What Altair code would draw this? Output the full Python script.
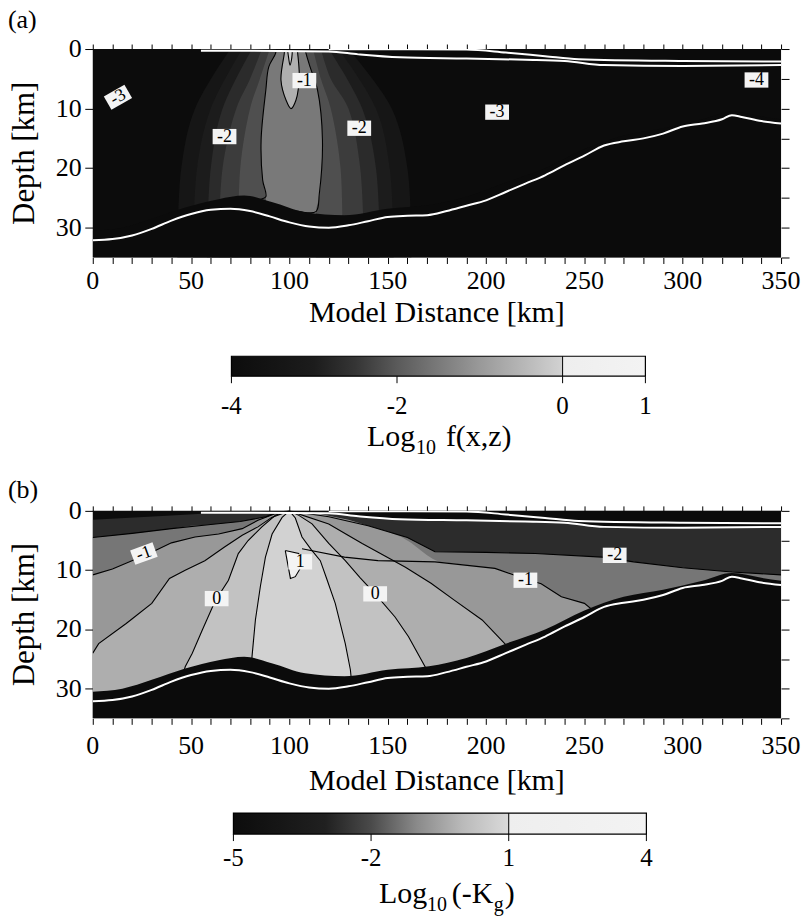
import altair as alt
import pandas as pd

SERIF = "Liberation Serif"

# ---------------- model geometry shared by both sections (distance km, depth km) ----------------
X_DOMAIN = [0, 350]
Z_DOMAIN = [0, 35]

MOHO_X = [0, 10, 20, 30, 40, 50, 60, 70, 80, 90, 100, 110, 120, 130, 140, 150, 160, 170, 180,
          190, 200, 210, 220, 230, 240, 250, 260, 270, 280, 290, 300, 310, 320, 325, 330, 340, 350]
MOHO_Z = [32.1, 31.9, 31.3, 30.2, 28.8, 27.7, 27.0, 26.8, 27.2, 28.1, 29.1, 29.8, 30.0, 29.6, 28.9,
          28.2, 28.0, 27.9, 27.2, 26.3, 25.4, 24.0, 22.6, 21.2, 19.5, 17.9, 16.2, 15.5, 15.0, 14.2,
          13.0, 12.5, 11.8, 11.1, 11.4, 12.1, 12.5]

# top of the lowermost crustal layer (no sensitivity below it)
LOWER_X = [0, 15, 30, 47, 64, 77, 91, 108, 128, 150, 171, 190, 210, 230, 250, 270, 290, 310, 325, 340, 350]
LOWER_Z = [30.5, 30.0, 28.5, 26.6, 25.2, 24.6, 25.7, 27.4, 27.9, 26.8, 26.2, 24.8, 22.4, 20.0, 16.8,
           14.5, 13.3, 11.8, 10.5, 11.3, 11.8]

# near-surface layers
SED_X = [55, 80, 120, 135, 156, 190, 220, 240, 260, 300, 350]
SED_Z = [0.3, 0.3, 0.4, 0.9, 1.4, 1.6, 1.8, 2.0, 2.7, 2.85, 2.7]
TOP_X = [120, 160, 190, 210, 230, 247, 300, 350]
TOP_Z = [0.05, 0.05, 0.1, 0.6, 1.2, 1.7, 2.0, 2.1]

X_TICKS = [0, 50, 100, 150, 200, 250, 300, 350]
X_MINOR = list(range(0, 351, 10))
Z_TICKS = [0, 10, 20, 30]
Z_MINOR = [0, 5, 10, 15, 20, 25, 30, 35]
X_TITLE = "Model Distance [km]"
Z_TITLE = "Depth [km]"

# ---------------- section (a): Log10 f(x,z) ----------------
A_CB_DOMAIN = [-4, -3, -2.5, -2, -1, 0, 0.001, 1]
A_CB_RANGE = ["#0c0c0c", "#1c1c1c", "#353535", "#5a5a5a", "#999999", "#d2d2d2", "#eeeeee", "#f3f3f3"]
A_CB_TICKS = [-4, -2, 0, 1]
A_CB_SPLIT = [0]
A_BACKGROUND = -4.0

# filled level sets, rows are (depth, left distance, right distance)
A_LEVEL_VALUES = [-3.4, -3.0, -2.7, -2.4, -2.15, -1.5, -0.6, -0.1]
A_LEVEL_ROWS = [
    [[0, 70, 130], [10, 52, 152], [20, 45, 160], [35, 43, 162]],
    [[0, 76, 125], [10, 60, 144], [20, 53, 151], [35, 51, 153]],
    [[0, 81, 120], [10, 66, 137], [20, 60, 144], [35, 58, 146]],
    [[0, 86, 116], [5, 80, 121], [10, 73, 130], [20, 66, 136], [35, 64, 138]],
    [[0, 90, 112], [5, 85, 116], [10, 80, 121], [20, 75, 126], [35, 74, 127]],
    [[0, 93, 108], [0.7, 93, 108.4], [3, 89.5, 110.5], [6.9, 88, 114.3], [15.3, 85.6, 116.8],
     [22, 86.4, 116], [24.8, 88, 115.2], [27.3, 88, 113.5], [35, 88, 113.5]],
    [[0, 97.5, 104], [0.7, 97.4, 104.2], [3, 96.4, 104.7], [5.2, 95.7, 105], [7, 96.9, 104.2],
     [8.6, 98.3, 103.3], [9.4, 99.5, 102.2], [10, 100.8, 100.9]],
    [[0, 99, 101.5], [1.5, 99.6, 101.2], [2.7, 100.3, 100.4]],
]

# contour lines (distance, depth)
A_CONTOURS = {
    "-2": [[93, 0], [93, 0.7], [89.5, 3], [88, 6.9], [85.6, 15.3], [86.4, 22], [88, 24.8], [84.7, 25.4],
           [91.5, 26.2], [105, 27.3], [113.5, 27.3], [115.2, 24.3], [116.8, 15.3], [114.3, 6.9],
           [110.5, 3], [108.4, 0.7], [108, 0]],
    "-1": [[97.5, 0], [97.4, 0.7], [95.7, 5.2], [98.3, 8.6], [100.8, 10], [103.3, 8.6], [105, 4.6],
           [104.2, 0.7], [104, 0]],
    "0": [[99, 0], [99.6, 1.5], [100.3, 2.7], [101.2, 1.5], [101.5, 0]],
}

A_LABEL_TEXT = ["-3", "-1", "-2", "-2", "-3", "-4"]
A_LABEL_X = [12.8, 107.6, 67, 135.5, 205.6, 337.5]
A_LABEL_Z = [8.1, 5.3, 14.7, 13.3, 10.6, 5.2]
A_LABEL_TILT = [330, 0, 0, 0, 0, 0]

# ---------------- section (b): Log10 (-Kg) ----------------
B_CB_DOMAIN = [-5, -3, -2, -1, 0, 1, 1.001, 4]
B_CB_RANGE = ["#0c0c0c", "#202020", "#4a4a4a", "#8a8a8a", "#bababa", "#dadada", "#eeeeee", "#f3f3f3"]
B_CB_TICKS = [-5, -2, 1, 4]
B_CB_SPLIT = [1]
B_BACKGROUND = -5.0

B_LEVEL_VALUES = [-2.7, -1.3, -0.7, -0.25, 0.25, 0.75, 1.5]
B_LEVEL_ROWS = [
    [[0, 82, 118], [0.8, 40, 150], [1.5, 0, 200], [2.5, 0, 350], [35, 0, 350]],
    [[0, 100, 100], [0.3, 93, 106], [1.0, 88, 120], [1.8, 75, 131], [2.3, 60, 137], [2.5, 50, 140],
     [3.0, 40, 145], [3.8, 20, 153], [4.5, 0, 160], [6.9, 0, 174], [7.0, 0, 200], [7.2, 0, 225],
     [7.8, 0, 259], [8.6, 0, 275], [9.6, 0, 300], [10.3, 0, 325], [10.8, 0, 350], [35, 0, 350]],
    [[0, 100, 100], [0.2, 95, 106], [0.5, 93, 115], [1.5, 85, 130], [3.0, 76, 145], [3.5, 70, 150],
     [3.9, 64, 153], [4.4, 52, 157], [5.4, 40, 162], [7.0, 30, 168], [7.5, 26, 170], [8.1, 22, 173],
     [8.6, 18, 176], [9.7, 11, 204], [10.8, 0, 217], [11.5, 0, 220], [12.3, 0, 228], [14.5, 0, 238],
     [15.6, 0, 250], [17.5, 0, 256], [18, 0, 350], [35, 0, 350]],
    [[0, 100, 100], [1.1, 91, 110], [2.2, 86, 120], [2.7, 84, 122.5], [4.1, 76, 129], [5.5, 70, 137],
     [6.1, 67, 140.5], [8.4, 57, 153], [9.5, 50, 159], [10, 47, 161.5], [11.4, 39, 168.5],
     [12.2, 37, 172], [15.1, 31, 184], [15.6, 30, 186], [18.4, 20, 198], [19, 17, 200],
     [22.4, 3, 209.5], [24, 0, 214], [35, 0, 220]],
    [[0, 100, 100], [0.7, 93, 104.5], [2.2, 87.5, 111.5], [2.7, 86, 113], [5, 79, 118.8],
     [5.5, 78, 120], [7.2, 74, 125], [8.4, 73, 128.4], [11.3, 69.5, 136], [11.7, 69, 137],
     [14, 64, 143.6], [15.1, 62.4, 146.5], [17.9, 58.5, 153.7], [20.1, 55.7, 158], [21.2, 54.3, 160.5],
     [24, 50.6, 165], [26.3, 47, 169], [35, 44, 174]],
    [[0, 100, 100], [1.1, 96.3, 102.8], [3.9, 91.2, 106], [4.4, 90.8, 106.4], [6.5, 88.5, 111],
     [7.8, 87.8, 114.3], [8.4, 87.5, 115.7], [11.5, 85.6, 119], [12.8, 85.2, 120.3], [15.6, 84, 123.3],
     [18.4, 82.7, 125.4], [22.4, 81.6, 128.4], [24.5, 81, 129.6], [26.8, 80.5, 131], [35, 80, 133]],
    [[6.6, 97.9, 98.5], [7.2, 97.9, 104.7], [8.35, 98.8, 105.8], [9.2, 99.5, 106.4],
     [10.5, 100.3, 104.2], [11.4, 101, 101.5]],
]

B_CONTOURS = {
    "-2L": [[0, 4.5], [20, 3.8], [40, 3.0], [60, 2.3], [75, 1.8], [88, 1.0], [93, 0.3], [100, 0]],
    "-2R": [[100, 0], [120, 1.0], [140, 2.5], [160, 4.5], [174, 6.9], [200, 7.0], [225, 7.2],
            [259, 7.8], [275, 8.6], [300, 9.6], [325, 10.3], [350, 10.8]],
    "-1L": [[0, 10.8], [10, 9.8], [22, 8.1], [30, 7.0], [40, 5.4], [52, 4.4], [64, 3.9], [76, 3.0],
            [84, 1.6], [95, 0.2], [100, 0]],
    "-1R": [[106.4, 6.4], [128, 7.8], [145, 8.4], [174, 8.6], [204.5, 9.7], [220, 11.5], [228, 12.3],
            [238.3, 14.5], [250, 15.6], [257, 17.5]],
    "-0.5L": [[0, 24], [3, 22.4], [17, 19], [30, 15.6], [39, 11.4], [47, 10], [57, 8.4], [67, 6.1],
              [76, 4.1], [84, 2.7], [91, 1.1], [100, 0]],
    "-0.5R": [[100, 0], [120, 2.2], [137, 5.5], [159, 9.5], [172, 12.2], [184, 15.1], [198, 18.4],
              [209.5, 22.4], [212, 23.5]],
    "0L": [[46, 27.5], [47, 26.3], [50.6, 24], [55.7, 20.1], [62.4, 15.1], [69, 11.7], [74, 7.2],
           [79, 5], [86, 2.7], [93, 0.7], [100, 0]],
    "0R": [[100, 0], [105, 0.8], [111.5, 2.2], [120, 5.5], [128.4, 8.4], [136, 11.3], [143.6, 14],
           [153.7, 17.9], [160.5, 21.2], [169, 26.3], [170, 27.2]],
    "0.5L": [[80.5, 26.5], [81, 24.5], [82.7, 18.4], [85.2, 12.8], [87.8, 7.8], [91.2, 3.9],
             [96.3, 1.1], [100, 0]],
    "0.5R": [[100, 0], [103, 1.2], [106.4, 4.4], [111, 6.5], [115.7, 8.4], [119, 11.5], [123.3, 15.6],
             [128.4, 22.4], [131, 26.8], [131.5, 28.5]],
    "1": [[97.9, 6.7], [104.7, 7.2], [106.4, 9.2], [103, 11.1], [100.5, 11.4], [98.8, 8.35], [97.9, 6.7]],
}

B_LABEL_TEXT = ["-1", "0", "1", "0", "-1", "-2"]
B_LABEL_X = [26, 63, 105.5, 143.6, 220, 265.4]
B_LABEL_Z = [7.2, 14.8, 8.6, 14, 11.7, 7.5]
B_LABEL_TILT = [340, 0, 0, 0, 0, 0]

# ---------------- helpers ----------------
X_SCALE = alt.Scale(domain=X_DOMAIN, nice=False, zero=False)
Z_SCALE = alt.Scale(domain=Z_DOMAIN, reverse=True, nice=False, zero=False)
LABEL_BOX = "M -1.4 -0.9 L 1.4 -0.9 L 1.4 0.9 L -1.4 0.9 Z"


def xq(field, axis=None):
    return alt.X(field, type="quantitative", scale=X_SCALE, axis=axis)


def zq(field, axis=None):
    return alt.Y(field, type="quantitative", scale=Z_SCALE, axis=axis)


def tick_axis(orient, values, size):
    return alt.Axis(orient=orient, values=values, tickSize=size, labels=False, domain=False,
                    title=None, tickColor="black", tickWidth=1, grid=False)


def polyline_frame(named):
    rows = []
    for name, pts in named.items():
        for i, (x, z) in enumerate(pts):
            rows.append({"line": name, "i": i, "x": x, "z": z})
    return pd.DataFrame(rows)


def text_layer(df, size, **enc):
    return alt.Chart(df).mark_text(font=SERIF, fontSize=size, color="black",
                                   align=enc.pop("align", "center"),
                                   baseline=enc.pop("baseline", "middle"),
                                   angle=enc.pop("rot", 0)).encode(**enc)


def section(values, level_rows, background, contours, lab_text, lab_x, lab_z, lab_tilt,
            cscale, letter, letter_y, xlab_base, xtitle_base, curve, height):
    color = lambda: alt.Color("v:Q", scale=cscale, legend=None)
    frame = pd.DataFrame({"x0": [X_DOMAIN[0]], "x1": [X_DOMAIN[1]],
                          "z0": [Z_DOMAIN[0]], "z1": [Z_DOMAIN[1]], "v": [background]})

    layers = [alt.Chart(frame).mark_rect().encode(
        x=xq("x0", tick_axis("bottom", X_MINOR, 6)), x2="x1:Q",
        y=zq("z0", tick_axis("left", Z_TICKS, 8)), y2="z1:Q", color=color())]

    # nested level sets of the field
    for v, rows in zip(values, level_rows):
        df = pd.DataFrame(rows, columns=["z", "xl", "xr"])
        df["v"] = v
        layers.append(alt.Chart(df).mark_area(orient="horizontal", interpolate=curve, clip=True).encode(
            y=zq("z"), x=xq("xl"), x2="xr:Q", color=color()))

    # contour lines
    cdf = polyline_frame(contours)
    layers.append(alt.Chart(cdf).mark_line(color="black", strokeWidth=1.1, clip=True,
                                           interpolate=curve).encode(
        x=xq("x"), y=zq("z"), detail="line:N", order="i:Q"))

    # layers without sensitivity: lowermost crust / mantle and the near-surface layer
    low = pd.DataFrame({"x": LOWER_X, "z": LOWER_Z, "zb": Z_DOMAIN[1]})
    layers.append(alt.Chart(low).mark_area(color="#0b0b0b", clip=True, interpolate="monotone").encode(
        x=xq("x"), y=zq("z"), y2="zb:Q"))
    sed = pd.DataFrame({"x": SED_X, "z": SED_Z, "zt": Z_DOMAIN[0]})
    layers.append(alt.Chart(sed).mark_area(color="#0b0b0b", clip=True, interpolate="monotone").encode(
        x=xq("x"), y=zq("zt"), y2="z:Q"))

    # interfaces drawn in white
    iface = polyline_frame({
        "moho": list(zip(MOHO_X, MOHO_Z)),
        "sed": list(zip(SED_X, SED_Z)),
        "top": list(zip(TOP_X, TOP_Z)),
    })
    layers.append(alt.Chart(iface).mark_line(color="white", strokeWidth=2, clip=True,
                                             interpolate="monotone").encode(
        x=xq("x"), y=zq("z"), detail="line:N", order="i:Q"))

    # contour labels on white boxes
    ldf = pd.DataFrame({"t": lab_text, "x": lab_x, "z": lab_z, "ang": lab_tilt})
    layers.append(alt.Chart(ldf).mark_point(shape=LABEL_BOX, filled=True, fill="#f4f4f4",
                                            opacity=1, size=290, strokeWidth=0).encode(
        x=xq("x"), y=zq("z"), angle=alt.Angle("ang:Q", scale=None)))
    layers.append(text_layer(ldf, 18, x=xq("x"), y=zq("z"), text="t:N",
                             angle=alt.Angle("ang:Q", scale=None)))

    # tick labels and axis titles
    xt = pd.DataFrame({"v": X_TICKS, "t": [str(v) for v in X_TICKS]})
    layers.append(text_layer(xt, 26, baseline="alphabetic", x=xq("v"),
                             y=alt.value(height + xlab_base), text="t:N"))
    zt = pd.DataFrame({"v": Z_TICKS, "t": [str(v) for v in Z_TICKS]})
    layers.append(text_layer(zt, 26, align="right", x=alt.value(-11), y=zq("v"), text="t:N"))
    layers.append(text_layer(pd.DataFrame({"t": [X_TITLE]}), 30, baseline="alphabetic",
                             x=alt.value(345), y=alt.value(height + xtitle_base), text="t:N"))
    layers.append(text_layer(pd.DataFrame({"t": [Z_TITLE]}), 31, rot=270,
                             x=alt.value(-68), y=alt.value(height / 2), text="t:N"))

    # section letter
    layers.append(text_layer(pd.DataFrame({"t": [letter]}), 26, align="left", baseline="top",
                             x=alt.value(-85), y=alt.value(letter_y), text="t:N"))

    # ticks on the upper and right frame edges
    layers.append(alt.Chart(frame).mark_rect(opacity=0).encode(
        x=xq("x0", tick_axis("top", X_MINOR, 5)), x2="x1:Q",
        y=zq("z0", tick_axis("right", Z_MINOR, 8)), y2="z1:Q"))

    return alt.layer(*layers).properties(width=690, height=height)


def colorbar(domain, rng, ticks, split, px_range, bar_top, bar_h, lab_y, title_parts, height):
    lo, hi = domain[0], domain[-1]
    stops = [alt.GradientStop(offset=(d - lo) / (hi - lo), color=c) for d, c in zip(domain, rng)]
    grad = alt.LinearGradient(gradient="linear", stops=stops, x1=0, x2=1, y1=0, y2=0)
    cb_scale = alt.Scale(domain=[lo, hi], range=px_range, nice=False, zero=False)
    cx = lambda f: alt.X(f, type="quantitative", scale=cb_scale, axis=None)

    bar = alt.Chart(pd.DataFrame({"lo": [lo], "hi": [hi]})).mark_rect(
        fill=grad, stroke="black", strokeWidth=1.2).encode(
        x=cx("lo"), x2="hi:Q", y=alt.value(bar_top), y2=alt.value(bar_top + bar_h))
    divider = alt.Chart(pd.DataFrame({"s": split})).mark_rule(color="black", strokeWidth=1).encode(
        x=cx("s"), y=alt.value(bar_top), y2=alt.value(bar_top + bar_h))
    tdf = pd.DataFrame({"v": ticks, "t": [str(t) for t in ticks]})
    tick_marks = alt.Chart(tdf).mark_rule(color="black", strokeWidth=1).encode(
        x=cx("v"), y=alt.value(bar_top + bar_h), y2=alt.value(bar_top + bar_h + 7))
    tick_text = text_layer(tdf, 25, x=cx("v"), y=alt.value(lab_y), text="t:N")

    layers = [bar, divider, tick_marks, tick_text]
    for txt, px, py, fs in title_parts:
        layers.append(text_layer(pd.DataFrame({"t": [txt]}), fs, align="left", baseline="alphabetic",
                                 x=alt.value(px), y=alt.value(py), text="t:N"))
    return alt.layer(*layers).properties(width=690, height=height)


scale_a = alt.Scale(domain=A_CB_DOMAIN, range=A_CB_RANGE)
scale_b = alt.Scale(domain=B_CB_DOMAIN, range=B_CB_RANGE)

panel_a = section(A_LEVEL_VALUES, A_LEVEL_ROWS, A_BACKGROUND, A_CONTOURS,
                  A_LABEL_TEXT, A_LABEL_X, A_LABEL_Z, A_LABEL_TILT,
                  scale_a, "(a)", -42, 32, 65, "catmull-rom", 209)
panel_b = section(B_LEVEL_VALUES, B_LEVEL_ROWS, B_BACKGROUND, B_CONTOURS,
                  B_LABEL_TEXT, B_LABEL_X, B_LABEL_Z, B_LABEL_TILT,
                  scale_b, "(b)", -34, 36, 72, "linear", 208)

bar_a = colorbar(A_CB_DOMAIN, A_CB_RANGE, A_CB_TICKS, A_CB_SPLIT, [139, 554], 99, 20, 149,
                 [("Log", 275, 189, 30), ("10", 324, 197, 20), ("f(x,z)", 354, 189, 30)], 254)
bar_b = colorbar(B_CB_DOMAIN, B_CB_RANGE, B_CB_TICKS, B_CB_SPLIT, [141, 555], 95, 21, 140,
                 [("Log", 287, 185, 30), ("10", 335, 193, 20), ("(-K", 360, 185, 30),
                  ("g", 402, 193, 20), (")", 413, 185, 30)], 198)

chart = alt.vconcat(panel_a, bar_a, panel_b, bar_b, spacing=0, bounds="flush").resolve_scale(
    x="independent", y="independent", color="independent"
).properties(
    padding={"left": 8, "top": 6, "right": 2, "bottom": 0}
).configure(
    background="white"
).configure_view(
    stroke=None
)

chart.save("out.html", embed_options={"renderer": "svg", "actions": False})
